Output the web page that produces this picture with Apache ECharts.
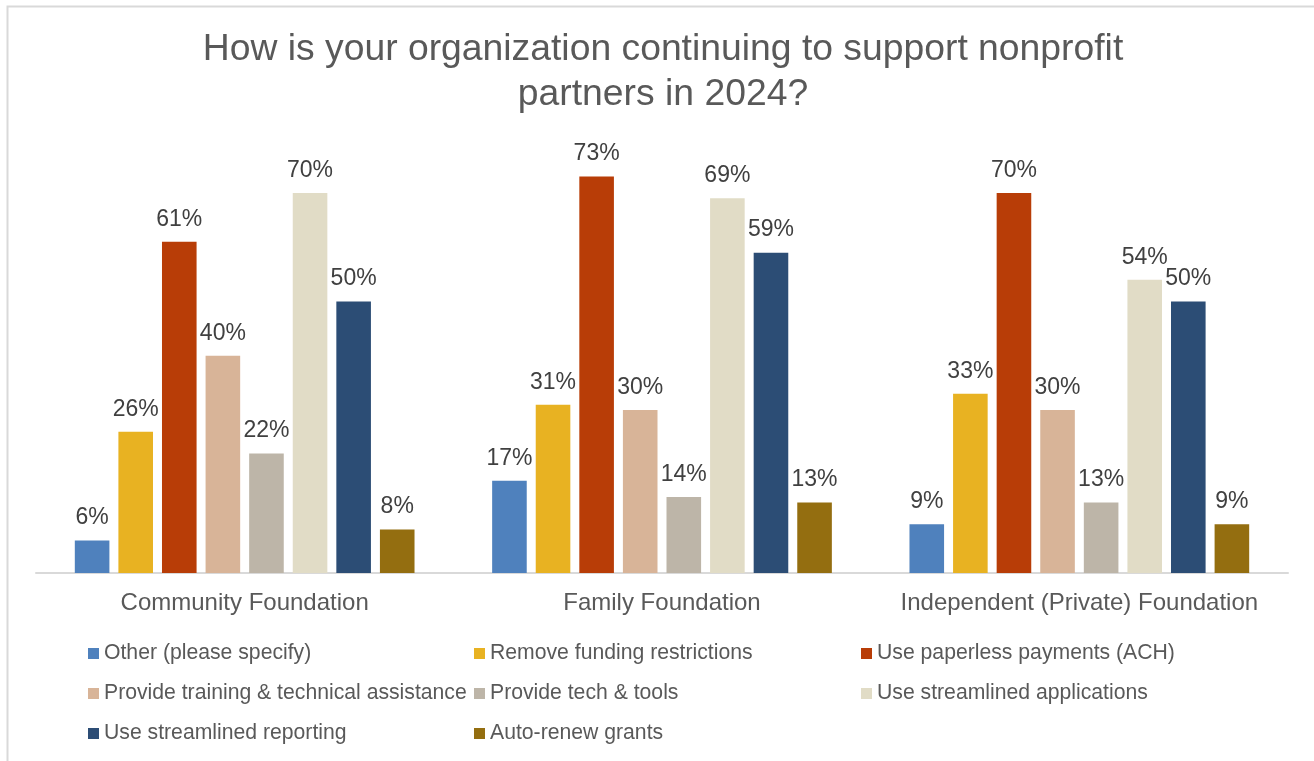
<!DOCTYPE html>
<html>
<head>
<meta charset="utf-8">
<title>Nonprofit partner support 2024</title>
<script src="https://cdn.jsdelivr.net/npm/echarts@6/dist/echarts.min.js"></script>
<style>
  html, body { margin: 0; padding: 0; background: #ffffff; }
  #chart { width: 1314px; height: 761px; }
</style>
</head>
<body>
<div id="chart"></div>
<script>
// Foundation types along the x axis
var categories = ['Community Foundation', 'Family Foundation', 'Independent (Private) Foundation'];

// Share of respondents (%) per support practice, one value per foundation type
var otherPleaseSpecify      = [6, 17, 9];
var removeFundingRestrict   = [26, 31, 33];
var paperlessPaymentsACH    = [61, 73, 70];
var trainingTechAssistance  = [40, 30, 30];
var techAndTools            = [22, 14, 13];
var streamlinedApplications = [70, 69, 54];
var streamlinedReporting    = [50, 59, 50];
var autoRenewGrants         = [8, 13, 9];

var seriesNames = [
  'Other (please specify)',
  'Remove funding restrictions',
  'Use paperless payments (ACH)',
  'Provide training & technical assistance',
  'Provide tech & tools',
  'Use streamlined applications',
  'Use streamlined reporting',
  'Auto-renew grants'
];
var seriesValues = [
  otherPleaseSpecify, removeFundingRestrict, paperlessPaymentsACH, trainingTechAssistance,
  techAndTools, streamlinedApplications, streamlinedReporting, autoRenewGrants
];
var palette = ['#4F81BD', '#E8B222', '#B83D07', '#D8B498', '#BDB5A8', '#E1DCC6', '#2C4D75', '#946E10'];

var FONT = '"Liberation Sans", Arial, sans-serif';

var series = seriesNames.map(function (name, i) {
  return {
    name: name,
    type: 'bar',
    data: seriesValues[i],
    barGap: '26%',
    barCategoryGap: '18.6%',
    itemStyle: { color: palette[i] },
    label: {
      show: true,
      position: 'top',
      distance: 11,
      formatter: '{c}%',
      color: '#404040',
      fontFamily: FONT,
      fontSize: 23
    },
    emphasis: { disabled: true }
  };
});

// Legend laid out as a three-column grid
function legendColumn(left, names) {
  return {
    orient: 'vertical',
    left: left,
    top: 643,
    padding: 0,
    itemWidth: 11,
    itemHeight: 11,
    itemGap: 19,
    icon: 'rect',
    selectedMode: false,
    data: names,
    textStyle: { color: '#595959', fontFamily: FONT, fontSize: 21.2, lineHeight: 21 }
  };
}

var option = {
  backgroundColor: '#ffffff',
  animation: false,
  title: {
    text: 'How is your organization continuing to support nonprofit\npartners in 2024?',
    left: 658,
    top: 22,
    textAlign: 'center',
    textStyle: {
      color: '#595959',
      fontFamily: FONT,
      fontSize: 37.3,
      fontWeight: 'normal',
      lineHeight: 45,
      align: 'center'
    }
  },
  legend: [
    legendColumn(88, [seriesNames[0], seriesNames[3], seriesNames[6]]),
    legendColumn(474, [seriesNames[1], seriesNames[4], seriesNames[7]]),
    legendColumn(861, [seriesNames[2], seriesNames[5]])
  ],
  grid: { left: 36, right: 26, top: 30, bottom: 188, containLabel: false },
  xAxis: {
    type: 'category',
    data: categories,
    axisLine: { show: true, lineStyle: { color: '#D9D9D9', width: 2 } },
    axisTick: { show: false },
    axisLabel: { interval: 0, color: '#595959', fontFamily: FONT, fontSize: 24, margin: 18 }
  },
  yAxis: {
    type: 'value',
    min: 0,
    max: 100,
    show: false,
    splitLine: { show: false }
  },
  graphic: [{
    type: 'rect',
    left: 5,
    top: 4,
    shape: { x: 0, y: 0, width: 1330, height: 800 },
    style: { fill: 'none', stroke: '#D9D9D9', lineWidth: 2 },
    silent: true,
    z: -10
  }],
  series: series
};

var chart = echarts.init(document.getElementById('chart'), null, { renderer: 'canvas' });
chart.setOption(option);
</script>
</body>
</html>
